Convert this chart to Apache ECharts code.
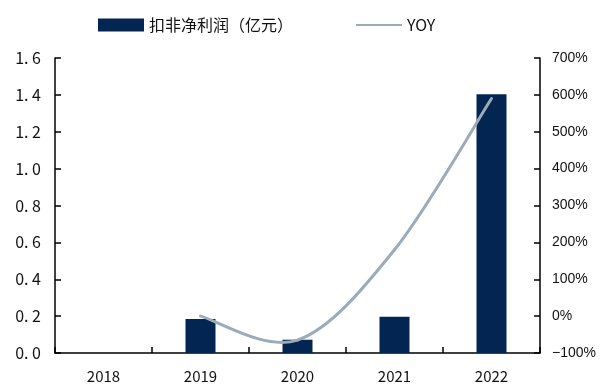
<!DOCTYPE html>
<html><head><meta charset="utf-8">
<script src="https://cdn.jsdelivr.net/npm/echarts@6/dist/echarts.min.js"></script>
<style>html,body{margin:0;padding:0;background:#fff}#c{width:601px;height:385px}</style>
</head><body><div id="c"></div>
<script>
var categories = ['2018', '2019', '2020', '2021', '2022'];
var profit = [null, 0.185, 0.072, 0.197, 1.403];
var yoy = [null, 0, -65, 180, 590];
var leftTicks = {min: 0, max: 1.6, interval: 0.2};
var rightTicks = {min: -100, max: 700, interval: 100};

var lineColor = '#9BABBA';
var yoyPoints = [];
categories.forEach(function (c, i) { if (yoy[i] != null) yoyPoints.push([c, yoy[i]]); });

function renderCurve(params, api) {
  if (params.dataIndex !== 0) return null;
  var p = yoyPoints.map(function (d) { return api.coord(d); });
  var n = p.length, children = [];
  for (var i = 0; i < n - 1; i++) {
    var a = p[Math.max(i - 1, 0)], b = p[i], c = p[i + 1], d = p[Math.min(i + 2, n - 1)];
    children.push({
      type: 'bezierCurve',
      shape: {
        x1: b[0], y1: b[1], x2: c[0], y2: c[1],
        cpx1: b[0] + (c[0] - a[0]) / 6, cpy1: b[1] + (c[1] - a[1]) / 6,
        cpx2: c[0] - (d[0] - b[0]) / 6, cpy2: c[1] - (d[1] - b[1]) / 6
      },
      style: {stroke: lineColor, lineWidth: 3, fill: null, lineCap: 'round'}
    });
  }
  return {type: 'group', children: children};
}

var chart = echarts.init(document.getElementById('c'));
var axisLine = {show: true, lineStyle: {color: '#000', width: 1.5}};
chart.setOption({
  animation: false,
  legend: {
    top: 12, left: 93, itemGap: 62, itemWidth: 46, itemHeight: 13,
    textStyle: {fontSize: 16, color: '#111', fontFamily: 'Noto Sans CJK SC'},
    data: [{name: '扣非净利润（亿元）', icon: 'rect'}, {name: 'YOY', itemStyle: {opacity: 0}}]
  },
  grid: {left: 55, right: 61, top: 58, bottom: 32},
  xAxis: {
    type: 'category', data: categories,
    axisLine: axisLine,
    axisTick: {show: true, inside: true, length: 6, lineStyle: {color: '#000', width: 1.5}},
    axisLabel: {fontSize: 15, color: '#111', margin: 16, fontFamily: 'Noto Sans CJK SC'}
  },
  yAxis: [{
    type: 'value', min: leftTicks.min, max: leftTicks.max, interval: leftTicks.interval,
    axisLine: axisLine, splitLine: {show: false},
    axisTick: {show: true, inside: true, length: 6, lineStyle: {color: '#000', width: 1.5}},
    axisLabel: {fontSize: 16, color: '#111', margin: 14, fontFamily: 'Noto Sans CJK SC',
      formatter: function (v) { return v.toFixed(1).replace('.', '. '); }}
  }, {
    type: 'value', min: rightTicks.min, max: rightTicks.max, interval: rightTicks.interval,
    position: 'right',
    axisLine: axisLine, splitLine: {show: false},
    axisTick: {show: true, inside: true, length: 6, lineStyle: {color: '#000', width: 1.5}},
    axisLabel: {fontSize: 14, color: '#111', margin: 12, fontFamily: 'Liberation Sans',
      formatter: function (v) { return (v < 0 ? '\u2212' + (-v) : v) + '%'; }}
  }],
  series: [{
    name: '扣非净利润（亿元）', type: 'bar', data: profit, barWidth: 30,
    itemStyle: {color: '#022552'}
  }, {
    name: 'YOY', type: 'line', yAxisIndex: 1, data: [], showSymbol: false, symbol: 'none',
    lineStyle: {color: lineColor, width: 3}, itemStyle: {color: lineColor}
  }, {
    name: 'YOY curve', type: 'custom', yAxisIndex: 1, data: yoyPoints,
    renderItem: renderCurve, silent: true, z: 3
  }]
});
</script></body></html>
